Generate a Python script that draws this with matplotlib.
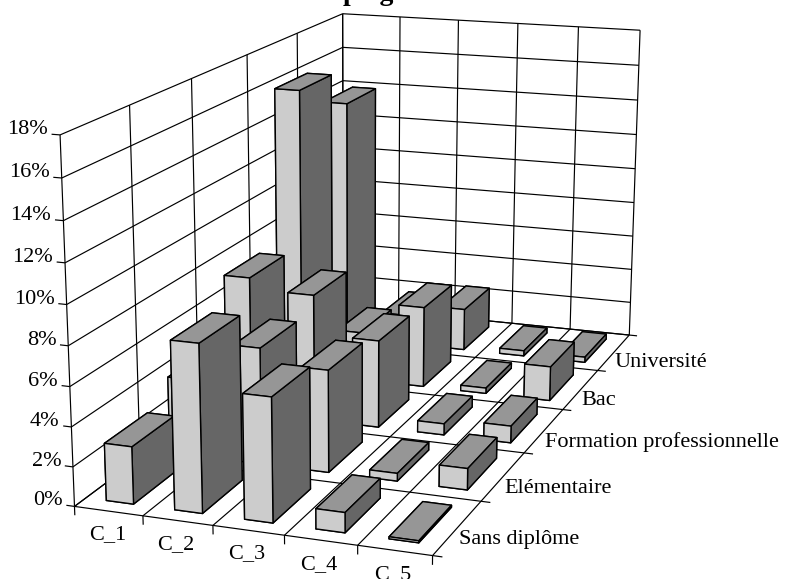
import numpy as np
import matplotlib
matplotlib.use('Agg')
import matplotlib.pyplot as plt
from mpl_toolkits.mplot3d import Axes3D

plt.rcParams['font.family'] = ['Liberation Serif', 'DejaVu Serif']

columns = ['C_1', 'C_2', 'C_3', 'C_4', 'C_5']
rows = ['Sans diplôme', 'Elémentaire', 'Formation professionnelle', 'Bac', 'Université']
z_ticks = [0, 2, 4, 6, 8, 10, 12, 14, 16, 18]

sans_diplome = [2.9, 8.4, 6.2, 1.0, 0.1]
elementaire = [4.0, 6.05, 5.3, 0.4, 1.1]
formation = [7.4, 6.8, 4.7, 0.6, 0.9]
bac = [16.0, 2.7, 4.5, 0.3, 1.9]
universite = [13.9, 1.7, 2.4, 0.3, 0.3]
values = [sans_diplome, elementaire, formation, bac, universite]

W, H = 786, 579
fig = plt.figure(figsize=(W / 100, H / 100), dpi=100)
ax = fig.add_axes([0, 0, 1, 1], projection='3d', computed_zorder=False)
ax.set_axis_off()
ax.apply_aspect()

# camera fitted on the corners and ticks of the box (column, row, percent -> pixel)
box_points = [(0, 0, 0, 74, 507), (1, 0, 0, 143, 515), (2, 0, 0, 213, 525), (3, 0, 0, 285, 535),
              (4, 0, 0, 358, 546), (5, 0, 0, 433, 556), (5, 1, 0, 481, 501), (5, 2, 0, 523, 453),
              (5, 3, 0, 563, 409), (5, 4, 0, 597, 371), (5, 5, 0, 630, 335), (0, 0, 18, 60, 135),
              (0, 5, 18, 343, 14), (5, 5, 18, 640, 30), (0, 4, 18, 297, 33), (1, 5, 18, 400, 17)]
lhs = []
rhs = []
for x, y, z, px, py in box_points:
    py = H - py
    lhs.append([x, y, z, 1, 0, 0, 0, 0, -px * x, -px * y, -px * z])
    lhs.append([0, 0, 0, 0, x, y, z, 1, -py * x, -py * y, -py * z])
    rhs += [px, py]
sol = np.linalg.lstsq(np.array(lhs, float), np.array(rhs, float), rcond=None)[0]
cam_px = np.append(sol, 1).reshape(3, 4)
cam = ax.transData.inverted().get_matrix() @ cam_px
proj = np.array([cam[0], cam[1], [0, 0, 0, -1], cam[2]])
ax.get_proj = lambda: proj


def seg(p, q, lw=0.85):
    ax.plot([p[0], q[0]], [p[1], q[1]], [p[2], q[2]], color='k', lw=lw, zorder=1,
            solid_capstyle='butt', clip_on=False)


def label(x, y, z, s, **kw):
    # the labels stay flat, so they go on the figure at the projected place
    u = cam_px @ np.array([x, y, z, 1.0])
    fig.text(u[0] / u[2] / W, u[1] / u[2] / H, s, va='center', fontsize=16, **kw)


n_col = len(columns)
n_row = len(rows)
z_top = z_ticks[-1]

for k in z_ticks:
    seg((-0.12, 0, k), (0, 0, k))
    seg((0, 0, k), (0, n_row, k))
    seg((0, n_row, k), (n_col, n_row, k))
for i in range(n_col + 1):
    seg((i, 0, -0.45), (i, 0, 0))
    seg((i, 0, 0), (i, n_row, 0))
    seg((i, n_row, 0), (i, n_row, z_top))
for j in range(n_row + 1):
    seg((0, j, 0), (n_col, j, 0))
    seg((n_col, j, 0), (n_col + 0.13, j, 0))
    seg((0, j, 0), (0, j, z_top))

# faces are -Z, +Z, -Y, +Y, -X, +X
face_colors = ['#969696', '#969696', '#CCCCCC', '#CCCCCC', '#666666', '#666666']
bar_w = 0.4
bar_d = 0.66
for j in reversed(range(n_row)):
    for i in range(n_col):
        bars = ax.bar3d(i + 0.3, j + 0.17, 0, bar_w, bar_d, values[j][i], color=face_colors, shade=False,
                        edgecolor='k', linewidth=1.0, zorder=3)
        bars.set_clip_on(False)

for k in z_ticks:
    label(-0.17, 0, k + 0.2, str(k) + '%', ha='right')
for i, name in enumerate(columns):
    label(i + 0.47, 0, -1.2, name, ha='center')
for j, name in enumerate(rows):
    label(n_col + 0.02, j + 0.5, -0.6, name, ha='left')

# only the bottom of the title is inside the picture
fig.text(343 / W, 1.0, 'p   g', ha='left', va='baseline', fontsize=20, fontweight='bold')

fig.savefig('out.png', dpi=100)
